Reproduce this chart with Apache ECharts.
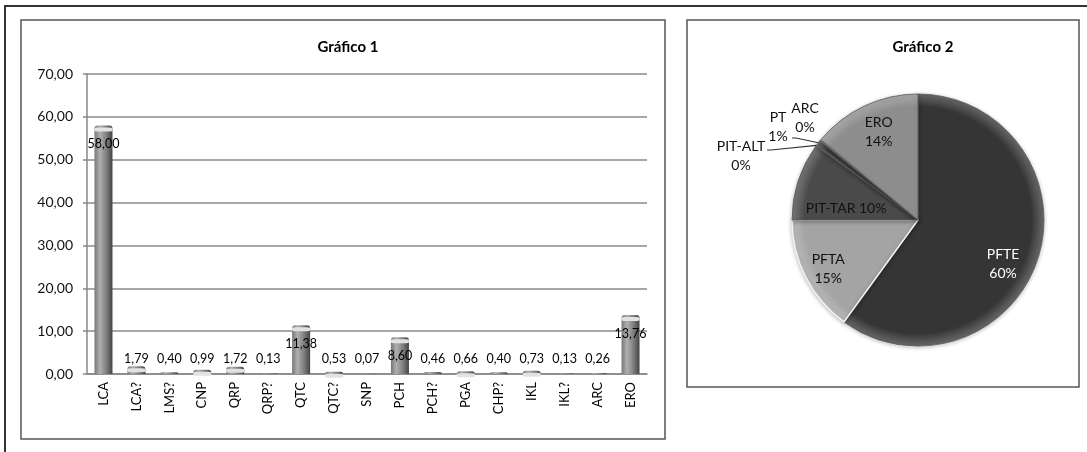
<!DOCTYPE html>
<html>
<head>
<meta charset="utf-8">
<script src="https://cdn.jsdelivr.net/npm/echarts@6/dist/echarts.min.js"></script>
<style>
  html, body { margin: 0; padding: 0; background: #fff; }
  #chart { width: 1087px; height: 452px; }
</style>
</head>
<body>
<div id="chart"></div>
<script>
// Gráfico 1: bar values per category
const barCategories = ['LCA', 'LCA?', 'LMS?', 'CNP', 'QRP', 'QRP?', 'QTC', 'QTC?', 'SNP',
  'PCH', 'PCH?', 'PGA', 'CHP?', 'IKL', 'IKL?', 'ARC', 'ERO'];
const barValues = [58.00, 1.79, 0.40, 0.99, 1.72, 0.13, 11.38, 0.53, 0.07,
  8.60, 0.46, 0.66, 0.40, 0.73, 0.13, 0.26, 13.76];
const yTicks = [0, 10, 20, 30, 40, 50, 60, 70];

// Gráfico 2: pie shares (percent)
const pieNames = ['PFTE', 'PFTA', 'PIT-TAR', 'PIT-ALT', 'PT', 'ARC', 'ERO'];
const pieValues = [60.0, 15.0, 10.0, 0.2, 0.6, 0.2, 14.0];

const FONT = 'Lato, "Open Sans", sans-serif';
const fmt = v => v.toFixed(2).replace('.', ',');

// pie geometry (px)
const PIE_CX = 918, PIE_CY = 220, PIE_R = 126;

// slice appearance
const sliceColors = {
  'PFTE': '#353535', 'PFTA': '#a4a4a4', 'PIT-TAR': '#4a4a4a',
  'PIT-ALT': '#6e6e6e', 'PT': '#3e3e3e', 'ARC': '#8a8a8a', 'ERO': '#8d8d8d'
};
const lighten = (hex, k) => {
  const n = parseInt(hex.slice(1), 16);
  const c = [(n >> 16) & 255, (n >> 8) & 255, n & 255].map(x => Math.round(x + (255 - x) * k));
  return 'rgb(' + c.join(',') + ')';
};
const sliceFill = name => ({
  type: 'radial', x: PIE_CX, y: PIE_CY, r: PIE_R, global: true,
  colorStops: [
    { offset: 0, color: sliceColors[name] },
    { offset: 0.9, color: sliceColors[name] },
    { offset: 1, color: lighten(sliceColors[name], 0.25) }
  ]
});

// label styling: inside labels placed along the slice bisector, outside ones beside the rim
const insideLabel = {
  'PFTE':    { k: 0.76, dx: -6, dy: 14, color: '#ffffff', sep: '\n' },
  'PFTA':    { k: 0.80, dx: 0, dy: 3, color: '#111111', sep: '\n' },
  'PIT-TAR': { k: 0.70, dx: 12, dy: 16, color: '#111111', sep: ' ' },
  'ERO':     { k: 0.77, dx: 2, dy: 0, color: '#111111', sep: '\n' }
};
const outsideLabel = {
  'PIT-ALT': { ox: -177, oy: -64, lineFrom: [-151, -70], line: true },
  'PT':      { ox: -140, oy: -93, lineFrom: [-126, -82], line: true },
  'ARC':     { ox: -113, oy: -102, line: false }
};

// mid angle of each slice, clockwise from 12 o'clock (radians)
const pieTotal = pieValues.reduce((a, b) => a + b, 0);
const midAngles = [];
{
  let acc = 0;
  pieValues.forEach(v => {
    midAngles.push(((acc + v / 2) / pieTotal) * Math.PI * 2);
    acc += v;
  });
}

const barGradient = {
  type: 'linear', x: 0, y: 0, x2: 1, y2: 0,
  colorStops: [
    { offset: 0, color: '#777777' },
    { offset: 0.3, color: '#b0b0b0' },
    { offset: 0.65, color: '#808080' },
    { offset: 1, color: '#444444' }
  ]
};

const chart = echarts.init(document.getElementById('chart'), null, { renderer: 'canvas' });

const option = {
  animation: false,
  backgroundColor: '#ffffff',
  textStyle: { fontFamily: FONT },
  graphic: [
    { type: 'rect', shape: { x: 5, y: 6, width: 1100, height: 460 },
      style: { fill: 'none', stroke: '#333', lineWidth: 2 }, z: -10 },
    { type: 'rect', shape: { x: 21, y: 20, width: 644, height: 419 },
      style: { fill: '#fff', stroke: '#555', lineWidth: 1.5 }, z: -9 },
    { type: 'rect', shape: { x: 687, y: 20, width: 392, height: 367 },
      style: { fill: '#fff', stroke: '#555', lineWidth: 1.5 }, z: -9 }
  ],
  title: [
    { text: 'Gráfico 1', left: 343, top: 35, textAlign: 'center',
      textStyle: { fontFamily: FONT, fontSize: 15, fontWeight: 'bold', color: '#000' } },
    { text: 'Gráfico 2', left: 918, top: 35, textAlign: 'center',
      textStyle: { fontFamily: FONT, fontSize: 15, fontWeight: 'bold', color: '#000' } }
  ],
  grid: { left: 87, top: 74, width: 560, height: 300, containLabel: false },
  xAxis: {
    type: 'category',
    data: barCategories,
    axisLine: { show: true, lineStyle: { color: '#888', width: 1.5 } },
    axisTick: { show: false },
    axisLabel: { rotate: 90, margin: 8, fontSize: 13, color: '#000', fontFamily: FONT, interval: 0 }
  },
  yAxis: {
    type: 'value',
    min: yTicks[0], max: yTicks[yTicks.length - 1], interval: 10,
    axisLine: { show: true, lineStyle: { color: '#888', width: 1.5 } },
    axisTick: { show: true, length: 4, lineStyle: { color: '#888', width: 1.5 } },
    axisLabel: { fontSize: 14, color: '#111', margin: 14, fontFamily: FONT, formatter: v => fmt(v) },
    splitLine: { show: true, lineStyle: { color: '#8a8a8a', width: 1.5 } }
  },
  series: [
    {
      type: 'bar',
      data: barValues.map(v => ({
        value: v,
        label: v > 5
          ? { position: 'insideTop', distance: 12 }
          : { position: 'insideBottom', distance: 9 }
      })),
      barWidth: 18,
      itemStyle: { color: barGradient, borderRadius: [3, 3, 0, 0] },
      label: {
        show: true, fontSize: 12.5, color: '#000', fontFamily: FONT,
        formatter: p => fmt(p.value)
      },
      z: 2
    },
    {
      // light rounded cap at the top of each column tall enough to carry one
      type: 'pictorialBar',
      data: barValues.map(v => (v >= 0.5 ? v : '-')),
      symbol: 'roundRect',
      symbolSize: [18, 4],
      symbolPosition: 'end',
      symbolOffset: [0, '50%'],
      itemStyle: { color: '#e2e2e2' },
      silent: true,
      z: 3
    },
    {
      type: 'pie',
      center: [PIE_CX, PIE_CY],
      radius: PIE_R,
      startAngle: 90,
      clockwise: true,
      avoidLabelOverlap: false,
      data: pieNames.map((name, i) => {
        const inside = insideLabel[name];
        const outside = outsideLabel[name];
        return {
          name: name,
          value: pieValues[i],
          itemStyle: {
            color: sliceFill(name),
            borderColor: name === 'PFTA' ? '#f2f2f2' : '#5a5a5a',
            borderWidth: name === 'PFTA' ? 1.5 : 0.8,
            shadowBlur: 4, shadowColor: 'rgba(0,0,0,0.25)', shadowOffsetY: 1
          },
          label: inside
            ? { position: 'inside', color: inside.color }
            : { position: 'outside', color: '#111' },
          labelLine: { show: !!(outside && outside.line), lineStyle: { color: '#333', width: 1.2 } }
        };
      }),
      label: {
        show: true, fontSize: 14, fontFamily: FONT, lineHeight: 19,
        align: 'center', verticalAlign: 'middle',
        formatter: p => {
          const inside = insideLabel[p.name];
          const sep = inside ? inside.sep : '\n';
          return p.name + sep + Math.round(p.percent) + '%';
        }
      },
      labelLine: { length: 8, length2: 8 },
      labelLayout: p => {
        if (p.seriesIndex !== 2) return {};
        const name = pieNames[p.dataIndex];
        const a = midAngles[p.dataIndex];
        const sx = Math.sin(a), sy = -Math.cos(a);
        const inside = insideLabel[name];
        if (inside) {
          return {
            x: PIE_CX + sx * PIE_R * inside.k + inside.dx,
            y: PIE_CY + sy * PIE_R * inside.k + inside.dy,
            align: 'center', verticalAlign: 'middle'
          };
        }
        const o = outsideLabel[name];
        const res = {
          x: PIE_CX + o.ox, y: PIE_CY + o.oy,
          align: 'center', verticalAlign: 'middle'
        };
        if (o.line) {
          res.labelLinePoints = [
            [PIE_CX + o.lineFrom[0], PIE_CY + o.lineFrom[1]],
            [PIE_CX + o.lineFrom[0] + 4, PIE_CY + o.lineFrom[1]],
            [PIE_CX + sx * PIE_R, PIE_CY + sy * PIE_R]
          ];
        }
        return res;
      }
    }
  ]
};

chart.setOption(option);
</script>
</body>
</html>
